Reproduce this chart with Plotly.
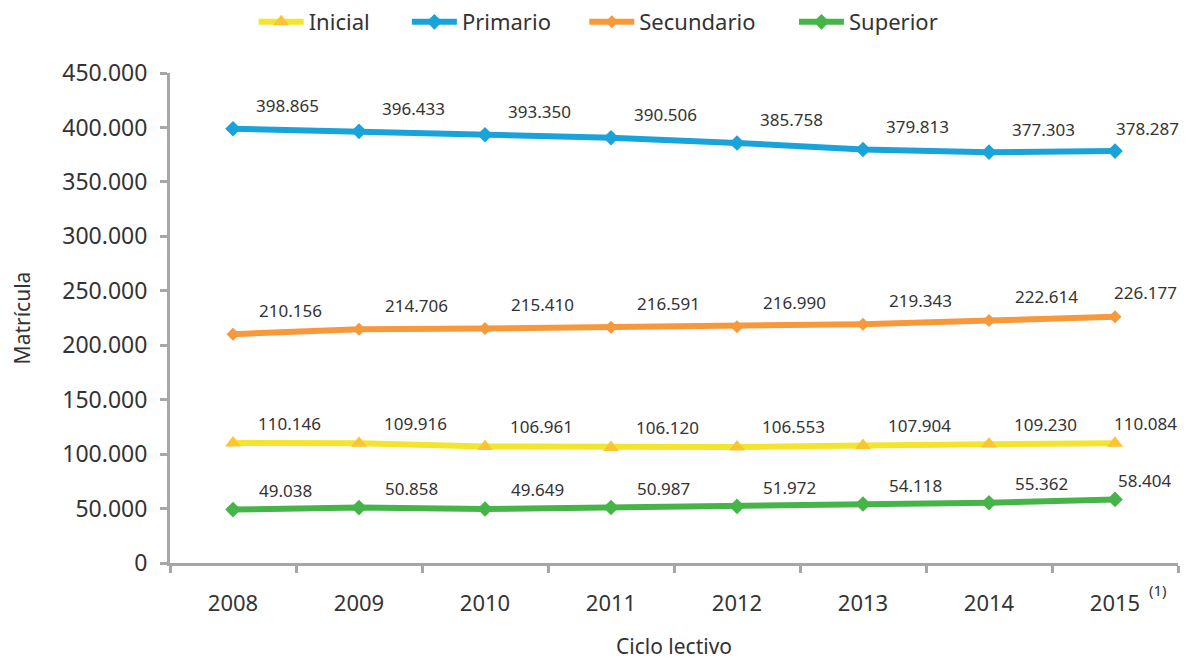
import plotly.graph_objects as go

years = ["2008", "2009", "2010", "2011", "2012", "2013", "2014", "2015"]
inicial = [110146, 109916, 106961, 106120, 106553, 107904, 109230, 110084]
primario = [398865, 396433, 393350, 390506, 385758, 379813, 377303, 378287]
secundario = [210156, 214706, 215410, 216591, 216990, 219343, 222614, 226177]
superior = [49038, 50858, 49649, 50987, 51972, 54118, 55362, 58404]

FONT = "Noto Sans"
TXT = "#333333"
AX = "#A6A6A6"

# name, values, line colour, marker colour, symbol, size, label dx, label dy, last-label dx, legend x
series = [
    ("Inicial", inicial, "#F3E52B", "#FBC531", "triangle-up", 14, 56, -20, 30, 0.083),
    ("Primario", primario, "#18A3DB", "#18A3DB", "diamond", 12, 54, -23, 32, 0.235),
    ("Secundario", secundario, "#F7983A", "#F7983A", "diamond", 10, 57, -24, 30, 0.411),
    ("Superior", superior, "#45B549", "#45B549", "diamond", 12, 52, -19, 29, 0.619),
]

fig = go.Figure()
legends = {}
for k, (name, vals, lc, mc, sym, ms, dx, dy, dxl, lx) in enumerate(series):
    lname = "legend" if k == 0 else f"legend{k + 1}"
    fig.add_trace(go.Scatter(
        x=years, y=vals, name=name, legend=lname,
        mode="lines+markers",
        line=dict(color=lc, width=6),
        marker=dict(color=mc, symbol=sym, size=ms),
    ))
    legends[lname] = dict(
        orientation="h", x=lx, xanchor="left", y=1.104, yanchor="middle",
        font=dict(family=FONT, size=22, color=TXT), itemwidth=45,
        bgcolor="rgba(0,0,0,0)",
    )
    for i, v in enumerate(vals):
        fig.add_annotation(
            x=i, y=v, xref="x", yref="y", text=f"{v:,}".replace(",", "."), showarrow=False,
            xshift=dxl if i == len(vals) - 1 else dx, yshift=-dy,
            font=dict(family=FONT, size=17, color=TXT),
        )

fig.add_annotation(x=len(years) - 1, y=0, text="(1)", showarrow=False, xref="x", yref="y",
                   xshift=43, yshift=-27, font=dict(family=FONT, size=15, color=TXT))

fig.update_layout(
    width=1181, height=652,
    margin=dict(l=162, r=11, t=65, b=97, autoexpand=False),
    plot_bgcolor="white", paper_bgcolor="white",
    separators=",.",
    font=dict(family=FONT, color=TXT),
    showlegend=True,
    xaxis=dict(
        type="category", range=[-0.5, 7.5], showgrid=False, automargin=False,
        showline=True, linecolor=AX, linewidth=3,
        ticks="outside", tickson="boundaries", ticklen=7, tickwidth=3, tickcolor=AX,
        tickfont=dict(family=FONT, size=22, color=TXT), ticklabelstandoff=19,
        title=dict(text="Ciclo lectivo", font=dict(family=FONT, size=21, color=TXT), standoff=30),
        zeroline=False,
    ),
    yaxis=dict(
        range=[0, 450000], dtick=50000, tickformat=",", showgrid=False, automargin=False,
        showline=True, linecolor=AX, linewidth=3,
        ticks="outside", ticklen=7, tickwidth=3, tickcolor=AX,
        tickfont=dict(family=FONT, size=23, color=TXT), ticklabelstandoff=8,
        title=dict(text="Matrícula", font=dict(family=FONT, size=21, color=TXT), standoff=30),
        zeroline=False,
    ),
)
fig.update_layout(**legends)

fig.write_html("out.html")
